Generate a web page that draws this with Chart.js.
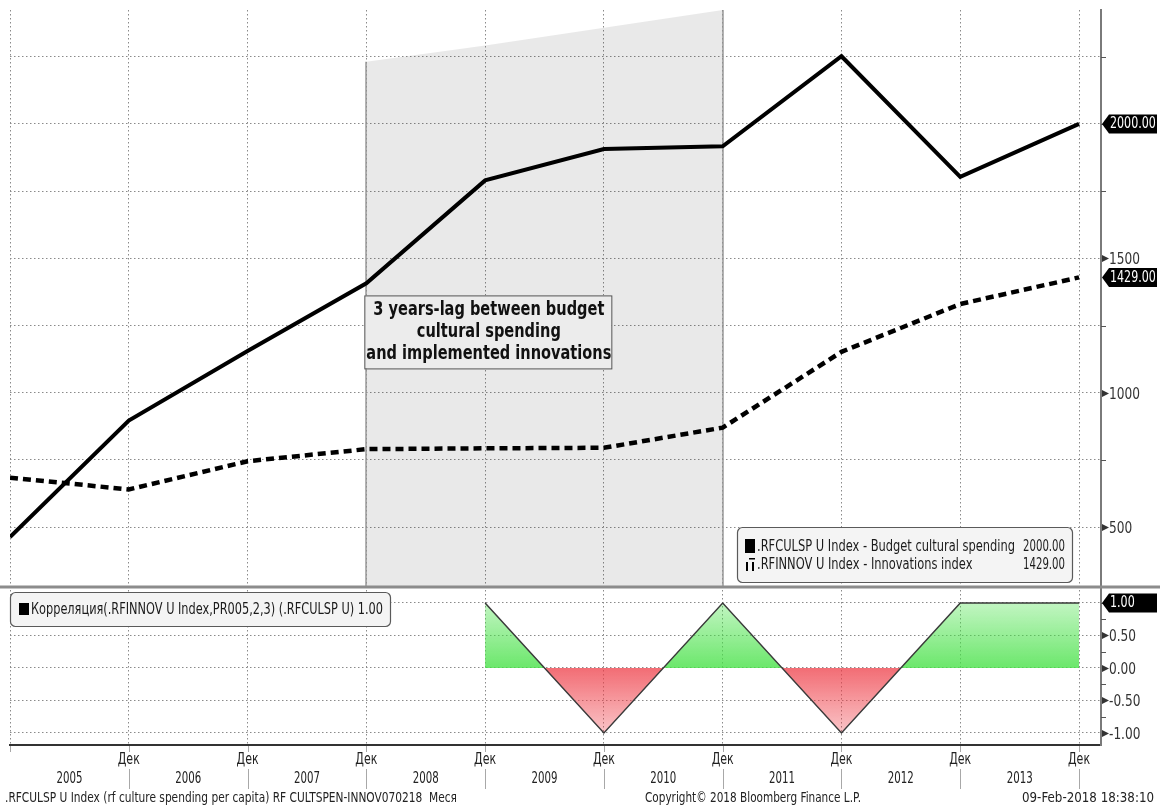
<!DOCTYPE html>
<html>
<head>
<meta charset="utf-8">
<script src="https://cdn.jsdelivr.net/npm/chart.js@4.4.1/dist/chart.umd.min.js"></script>
<style>
html,body{margin:0;padding:0;background:#fff;}
canvas{display:block;}
</style>
</head>
<body>
<canvas id="c" width="1160" height="811"></canvas>
<script>
// ---------------- data ----------------
const years = [2004, 2005, 2006, 2007, 2008, 2009, 2010, 2011, 2012, 2013];
const yearLabels = ['2005', '2006', '2007', '2008', '2009', '2010', '2011', '2012', '2013'];
const monthLabel = 'Дек';
const budgetSpending = [463, 896, 1155, 1407, 1790, 1907, 1917, 2252, 1803, 2000];
const innovationsIndex = [684, 640, 745, 790, 793, 795, 870, 1152, 1330, 1429];
const corrYears = [2008, 2009, 2010, 2011, 2012, 2013];
const correlation = [1, -1, 1, -1, 1, 1];
const lagYears = [2007, 2008, 2009, 2010];
const lagBand = [2231, 2292, 2358, 2424];
const priceTicks = [500, 750, 1000, 1250, 1500, 1750, 2000, 2250];
const priceLabels = [500, 1000, 1500];
const corrTicks = [-1, -0.75, -0.5, -0.25, 0, 0.25, 0.5, 0.75, 1];
const corrLabels = [-1, -0.5, 0, 0.5];
const seriesNames = ['.RFCULSP U Index - Budget cultural spending', '.RFINNOV U Index - Innovations index'];
const corrName = 'Корреляция(.RFINNOV U Index,PR005,2,3) (.RFCULSP U)';
const annotationLines = ['3 years-lag between budget', 'cultural spending', 'and implemented innovations'];
const footerLeft = '.RFCULSP U Index (rf culture spending per capita) RF CULTSPEN-INNOV070218  Меся';
const footerMid = 'Copyright\u00A9 2018 Bloomberg Finance L.P.';
const footerRight = '09-Feb-2018 18:38:10';

// ---------------- helpers ----------------
const FONT = '"DejaVu Sans", "Liberation Sans", sans-serif';
function drawText(ctx, s, x, y, o) {
  o = o || {};
  ctx.save();
  ctx.font = (o.bold ? 'bold ' : '') + (o.size || 14) + 'px ' + FONT;
  ctx.fillStyle = o.color || '#1a1a1a';
  ctx.textBaseline = 'middle';
  ctx.textAlign = 'left';
  const w = ctx.measureText(s).width;
  const sx = o.width ? o.width / w : (o.sx || 0.75);
  const dw = w * sx;
  const x0 = o.align === 'center' ? x - dw / 2 : (o.align === 'right' ? x - dw : x);
  ctx.translate(x0, y);
  ctx.scale(sx, 1);
  ctx.fillText(s, 0, 0);
  ctx.restore();
  return sx;
}
function measureSx(ctx, s, size, bold, width) {
  ctx.save();
  ctx.font = (bold ? 'bold ' : '') + size + 'px ' + FONT;
  const w = ctx.measureText(s).width;
  ctx.restore();
  return width / w;
}
function badge(ctx, x, y, text) {
  ctx.save();
  ctx.fillStyle = '#000';
  ctx.beginPath();
  ctx.moveTo(x + 1, y);
  ctx.lineTo(x + 8, y - 9.5);
  ctx.lineTo(x + 56, y - 9.5);
  ctx.lineTo(x + 56, y + 9.5);
  ctx.lineTo(x + 8, y + 9.5);
  ctx.closePath();
  ctx.fill();
  ctx.restore();
  drawText(ctx, text, x + 9, y + 0.5, {size: 15, sx: 0.74, color: '#fff'});
}
function axisDecor(ctx, scale, labels, fmt) {
  const ax = scale.left;
  scale.ticks.forEach(t => {
    const py = Math.round(scale.getPixelForValue(t.value)) + 0.5;
    ctx.save();
    if (labels.includes(t.value)) {
      ctx.fillStyle = '#333';
      ctx.beginPath();
      ctx.moveTo(ax + 1, py - 3.5);
      ctx.lineTo(ax + 8, py);
      ctx.lineTo(ax + 1, py + 3.5);
      ctx.closePath();
      ctx.fill();
      drawText(ctx, fmt(t.value), ax + 8, py + 1, {size: 16, sx: 0.76, color: '#333'});
    } else {
      ctx.strokeStyle = '#555';
      ctx.lineWidth = 1;
      ctx.beginPath();
      ctx.moveTo(ax, py);
      ctx.lineTo(ax + 5, py);
      ctx.stroke();
    }
    ctx.restore();
  });
}

const decor = {
  id: 'decor',
  beforeDatasetsDraw(chart) {
    const ctx = chart.ctx;
    const ys = chart.scales.y;
    const pts = chart.getDatasetMeta(0).data;
    ctx.save();
    ctx.strokeStyle = '#9a9a9a';
    ctx.lineWidth = 1.5;
    [pts[0], pts[pts.length - 1]].forEach(p => {
      const px = Math.round(p.x);
      ctx.beginPath();
      ctx.moveTo(px, Math.max(p.y, chart.chartArea.top));
      ctx.lineTo(px, ys.bottom);
      ctx.stroke();
    });
    ctx.restore();
  },
  afterDatasetsDraw(chart) {
    const ctx = chart.ctx;
    const xs = chart.scales.x, ys = chart.scales.y, y2 = chart.scales.y2;
    const area = chart.chartArea;

    // annotation box
    const bx = xs.getPixelForValue(lagYears[0]) - 2;
    const by = ys.getPixelForValue(1362);
    const bw = 247, bh = 73;
    ctx.save();
    ctx.fillStyle = '#ececec';
    ctx.fillRect(bx, by, bw, bh);
    ctx.strokeStyle = '#555';
    ctx.lineWidth = 1;
    ctx.strokeRect(bx + 0.5, by + 0.5, bw, bh);
    ctx.restore();
    const asx = measureSx(ctx, annotationLines[2], 19, true, 245);
    annotationLines.forEach((l, i) => {
      drawText(ctx, l, bx + bw / 2 + 1, by + 15 + i * 22, {size: 19, bold: true, sx: asx, align: 'center', color: '#111'});
    });

    // top legend
    const lx = area.right - 364, lw = 335, lh = 55, ly = ys.bottom - 60;
    ctx.save();
    ctx.fillStyle = '#f4f4f4';
    ctx.strokeStyle = '#5a5a5a';
    ctx.lineWidth = 1.2;
    ctx.beginPath();
    ctx.roundRect(lx + 0.5, ly + 0.5, lw, lh, 5);
    ctx.fill();
    ctx.stroke();
    ctx.fillStyle = '#000';
    ctx.fillRect(lx + 8, ly + 12, 10, 14);
    ctx.fillRect(lx + 9, ly + 35, 2, 9);
    ctx.fillRect(lx + 15, ly + 35, 2, 9);
    ctx.fillRect(lx + 12, ly + 31, 6, 1.5);
    ctx.restore();
    const lsx = measureSx(ctx, seriesNames[0], 16, false, 258);
    drawText(ctx, seriesNames[0], lx + 20, ly + 20, {size: 16, sx: lsx});
    drawText(ctx, seriesNames[1], lx + 20, ly + 38, {size: 16, sx: lsx});
    drawText(ctx, budgetSpending[budgetSpending.length - 1].toFixed(2), lx + lw - 7, ly + 20, {size: 16, width: 42, align: 'right'});
    drawText(ctx, innovationsIndex[innovationsIndex.length - 1].toFixed(2), lx + lw - 7, ly + 38, {size: 16, width: 42, align: 'right'});

    // bottom legend
    const cx = area.left, cy = y2.top + 5, cw = 380, ch = 34;
    ctx.save();
    ctx.fillStyle = '#f4f4f4';
    ctx.strokeStyle = '#5a5a5a';
    ctx.lineWidth = 1.2;
    ctx.beginPath();
    ctx.roundRect(cx + 0.5, cy + 0.5, cw, ch, 5);
    ctx.fill();
    ctx.stroke();
    ctx.fillStyle = '#000';
    ctx.fillRect(cx + 9, cy + 11, 10, 12);
    ctx.restore();
    drawText(ctx, corrName + ' ' + correlation[correlation.length - 1].toFixed(2), cx + 21, cy + 18, {size: 16, width: 352});
  },
  afterDraw(chart) {
    const ctx = chart.ctx;
    const xs = chart.scales.x, ys = chart.scales.y, y2 = chart.scales.y2;
    const area = chart.chartArea;

    // separator between panels
    ctx.save();
    ctx.fillStyle = '#8c8c8c';
    ctx.fillRect(0, ys.bottom - 1.5, chart.width, 3);
    ctx.restore();

    axisDecor(ctx, ys, priceLabels, v => String(v));
    axisDecor(ctx, y2, corrLabels, v => v.toFixed(2));

    badge(ctx, ys.left, ys.getPixelForValue(budgetSpending[budgetSpending.length - 1]), budgetSpending[budgetSpending.length - 1].toFixed(2));
    badge(ctx, ys.left, ys.getPixelForValue(innovationsIndex[innovationsIndex.length - 1]), innovationsIndex[innovationsIndex.length - 1].toFixed(2));
    badge(ctx, y2.left, y2.getPixelForValue(correlation[correlation.length - 1]), correlation[correlation.length - 1].toFixed(2));

    // x axis labels
    const base = area.bottom;
    ctx.save();
    ctx.strokeStyle = '#a8a8a8';
    ctx.lineWidth = 1;
    years.forEach((v, i) => {
      const px = Math.round(xs.getPixelForValue(v)) + 0.5;
      ctx.beginPath();
      ctx.moveTo(px, base + 1);
      ctx.lineTo(px, base + 7);
      if (i > 0) {
        ctx.moveTo(px, base + 24);
        ctx.lineTo(px, base + 44);
      }
      ctx.stroke();
    });
    ctx.restore();
    years.slice(1).forEach(v => {
      drawText(ctx, monthLabel, xs.getPixelForValue(v), base + 15, {size: 15, width: 22, align: 'center', color: '#222'});
    });
    yearLabels.forEach((lab, i) => {
      drawText(ctx, lab, xs.getPixelForValue(years[i + 1] - 0.5), base + 34, {size: 15, width: 26, align: 'center', color: '#222'});
    });

    // footer
    drawText(ctx, footerLeft, 5, 798, {size: 14, width: 452, color: '#222'});
    drawText(ctx, footerMid, 645, 798, {size: 14, width: 216, color: '#222'});
    drawText(ctx, footerRight, 1154, 798, {size: 14, width: 132, align: 'right', color: '#222'});
  }
};

// ---------------- chart ----------------
const canvas = document.getElementById('c');
const ctx = canvas.getContext('2d');
const dotted = [1.5, 2.5];

const chart = new Chart(ctx, {
  type: 'line',
  data: {
    datasets: [
      {
        label: 'lag',
        data: lagYears.map((x, i) => ({x, y: lagBand[i]})),
        yAxisID: 'y',
        borderWidth: 0,
        borderColor: 'rgba(0,0,0,0)',
        pointRadius: 0,
        fill: 'start',
        backgroundColor: 'rgba(0,0,0,0.085)',
        order: 10
      },
      {
        label: seriesNames[0],
        data: years.map((x, i) => ({x, y: budgetSpending[i]})),
        yAxisID: 'y',
        borderColor: '#000',
        borderWidth: 4,
        pointRadius: 0,
        fill: false,
        tension: 0,
        order: 1
      },
      {
        label: seriesNames[1],
        data: years.map((x, i) => ({x, y: innovationsIndex[i]})),
        yAxisID: 'y',
        borderColor: '#000',
        borderWidth: 4.5,
        borderDash: [8, 5],
        pointRadius: 0,
        fill: false,
        tension: 0,
        order: 2
      },
      {
        label: corrName,
        data: corrYears.map((x, i) => ({x, y: correlation[i]})),
        yAxisID: 'y2',
        borderColor: '#3a3a3a',
        borderWidth: 1.5,
        pointRadius: 0,
        tension: 0,
        fill: {target: {value: 0}, above: 'rgba(70,225,70,0.55)', below: 'rgba(238,60,70,0.5)'},
        order: 3
      }
    ]
  },
  options: {
    responsive: false,
    animation: false,
    events: [],
    layout: {padding: {left: 10, top: 10, right: 0, bottom: 0}},
    plugins: {legend: {display: false}, tooltip: {enabled: false}},
    scales: {
      x: {
        type: 'linear',
        min: years[0],
        max: 2013.185,
        afterBuildTicks: s => { s.ticks = years.map(v => ({value: v})); },
        ticks: {display: false},
        grid: {color: '#8a8a8a', lineWidth: 1, drawTicks: false},
        border: {display: true, color: '#333', width: 2, dash: dotted},
        afterFit: s => { s.height = 66; }
      },
      y: {
        type: 'linear',
        position: 'right',
        stack: 'panels',
        stackWeight: 577,
        min: 277,
        max: 2424,
        afterBuildTicks: s => { s.ticks = priceTicks.map(v => ({value: v})); },
        ticks: {display: false},
        grid: {color: '#8a8a8a', lineWidth: 1, drawTicks: false},
        border: {display: true, color: '#7a7a7a', width: 2, dash: dotted},
        afterFit: s => { s.width = 59; }
      },
      y2: {
        type: 'linear',
        position: 'right',
        stack: 'panels',
        stackWeight: 158,
        min: -1.185,
        max: 1.246,
        afterBuildTicks: s => { s.ticks = corrTicks.map(v => ({value: v})); },
        ticks: {display: false},
        grid: {
          color: c => (c.tick && corrLabels.concat([1]).includes(c.tick.value)) ? '#8a8a8a' : 'rgba(0,0,0,0)',
          lineWidth: 1,
          drawTicks: false
        },
        border: {display: true, color: '#7a7a7a', width: 2, dash: dotted},
        afterFit: s => { s.width = 59; }
      }
    }
  },
  plugins: [decor]
});

// gradients for the correlation fill, built from the laid-out scale
(function () {
  const s = chart.scales.y2;
  const pTop = s.getPixelForValue(1), pZero = s.getPixelForValue(0), pBot = s.getPixelForValue(-1);
  const gG = ctx.createLinearGradient(0, pTop, 0, pZero);
  gG.addColorStop(0, 'rgba(70,225,70,0.33)');
  gG.addColorStop(1, 'rgba(70,225,70,0.8)');
  const gR = ctx.createLinearGradient(0, pZero, 0, pBot);
  gR.addColorStop(0, 'rgba(238,60,70,0.75)');
  gR.addColorStop(1, 'rgba(238,60,70,0.3)');
  chart.data.datasets[3].fill = {target: {value: 0}, above: gG, below: gR};
  chart.update('none');
})();
</script>
</body>
</html>
